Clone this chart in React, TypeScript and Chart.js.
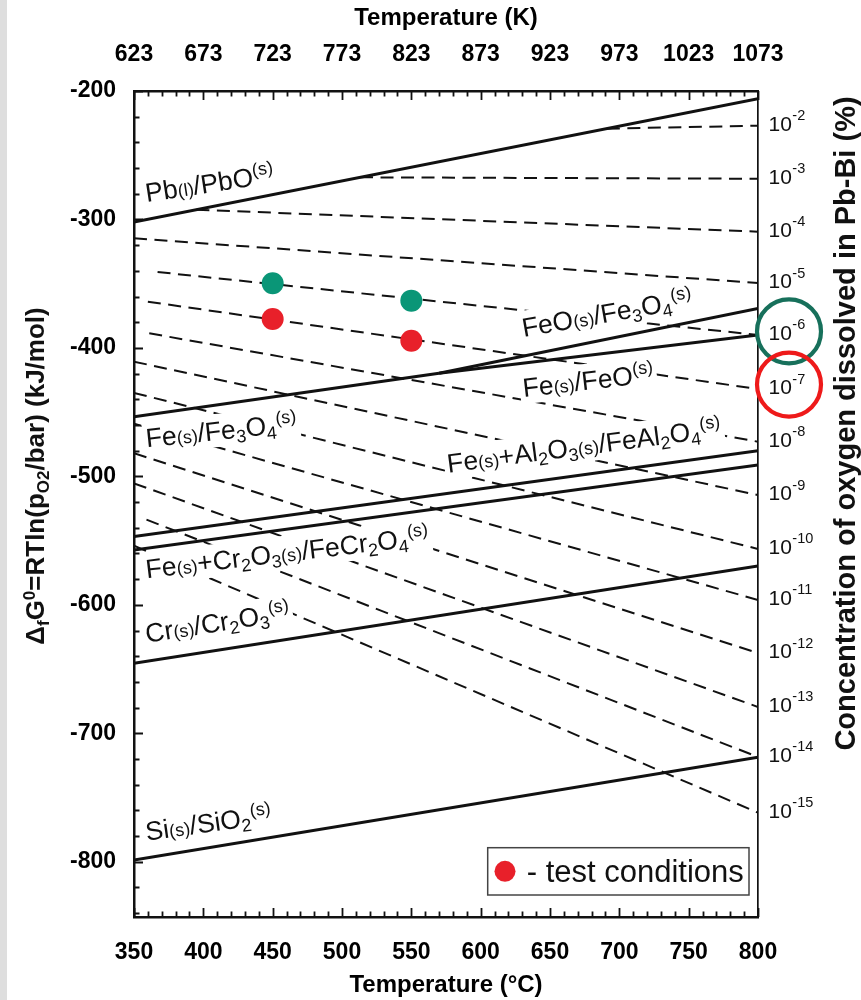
import React, { useEffect, useRef } from 'react';
import { Chart, registerables } from 'chart.js';

Chart.register(...registerables);

const FAM = '"Liberation Sans", Arial, Helvetica, sans-serif';

// ---------------- data ----------------
const tempTicksC = [350, 400, 450, 500, 550, 600, 650, 700, 750, 800];
const tempTicksK = ['623', '673', '723', '773', '823', '873', '923', '973', '1023', '1073'];
const gTicks = [-800, -700, -600, -500, -400, -300, -200];

// iso-concentration (dashed) lines: oxygen concentration 10^-2 ... 10^-15 %
const isoExponents = ['-2', '-3', '-4', '-5', '-6', '-7', '-8', '-9', '-10', '-11', '-12', '-13', '-14', '-15'];
const isoStartT = [691, 513, 395, 350, 367, 360, 361, 350, 350, 350, 350, 350, 359, 350];
const isoStartG = [-229.3, -267.2, -292.4, -314.7, -340.9, -364.0, -388.6, -410.7, -435.0, -459.0, -482.0, -505.4, -533.7, -554.0];
const isoEndT = 800;
const isoEndG = [-227.0, -268.3, -309.5, -349.5, -389.9, -432.0, -473.0, -514.5, -556.5, -596.2, -637.5, -679.5, -718.4, -761.8];

// oxide formation lines (solid)
const pbPbO = [{ x: 350, y: -302 }, { x: 800, y: -206 }];
const feFe3O4 = [{ x: 350, y: -453.5 }, { x: 570, y: -419.7 }];
const feoFe3O4 = [{ x: 570, y: -419.7 }, { x: 800, y: -369.2 }];
const feFeO = [{ x: 570, y: -419.7 }, { x: 800, y: -389.9 }];
const feAl2O4 = [{ x: 350, y: -546.9 }, { x: 800, y: -480.0 }];
const feCr2O4 = [{ x: 350, y: -557.3 }, { x: 800, y: -491.1 }];
const crCr2O3 = [{ x: 350, y: -645.5 }, { x: 800, y: -569.8 }];
const siSiO2 = [{ x: 350, y: -798.6 }, { x: 800, y: -718.7 }];

// test conditions
const testTemps = [450, 550];
const testGreenG = [-349.7, -363.2];
const testRedG = [-377.5, -394.4];

// curve labels (anchor = left baseline, in data units)
type Kind = 'n' | 's' | 'd' | 'p';
type Seg = [string, Kind];
const curveLabels: { segs: Seg[]; t: number; g: number; angle: number }[] = [
  { segs: [['Pb', 'n'], ['(l)', 's'], ['/PbO', 'n'], ['(s)', 'p']], t: 359.2, g: -286.5, angle: -8.7 },
  { segs: [['FeO', 'n'], ['(s)', 's'], ['/Fe', 'n'], ['3', 'd'], ['O', 'n'], ['4', 'd'], ['(s)', 'p']], t: 631, g: -391.5, angle: -10 },
  { segs: [['Fe', 'n'], ['(s)', 's'], ['/FeO', 'n'], ['(s)', 'p']], t: 631, g: -438.2, angle: -6.5 },
  { segs: [['Fe', 'n'], ['(s)', 's'], ['+Al', 'n'], ['2', 'd'], ['O', 'n'], ['3', 'd'], ['(s)', 's'], ['/FeAl', 'n'], ['2', 'd'], ['O', 'n'], ['4', 'd'], ['(s)', 'p']], t: 576.7, g: -497.1, angle: -7.5 },
  { segs: [['Fe', 'n'], ['(s)', 's'], ['/Fe', 'n'], ['3', 'd'], ['O', 'n'], ['4', 'd'], ['(s)', 'p']], t: 359.2, g: -477.4, angle: -6 },
  { segs: [['Fe', 'n'], ['(s)', 's'], ['+Cr', 'n'], ['2', 'd'], ['O', 'n'], ['3', 'd'], ['(s)', 's'], ['/FeCr', 'n'], ['2', 'd'], ['O', 'n'], ['4', 'd'], ['(s)', 'p']], t: 359.2, g: -579.3, angle: -6.8 },
  { segs: [['Cr', 'n'], ['(s)', 's'], ['/Cr', 'n'], ['2', 'd'], ['O', 'n'], ['3', 'd'], ['(s)', 'p']], t: 359.2, g: -629.5, angle: -9 },
  { segs: [['Si', 'n'], ['(s)', 's'], ['/SiO', 'n'], ['2', 'd'], ['(s)', 'p']], t: 359.2, g: -783.6, angle: -8 },
];

const leftTitle: Seg[] = [['Δ', 'n'], ['f', 'd'], ['G', 'n'], ['0', 'p'], ['=RTln(p', 'n'], ['O2', 'd'], ['/bar) (kJ/mol)', 'n']];
const rightTitle = 'Concentration of oxygen dissolved in Pb-Bi (%)';
const legendText = '- test conditions';

// ---------------- styles ----------------
const GREEN_DOT = '#0a9677';
const RED_DOT = '#e8202a';
const GREEN_RING = '#17705b';
const RED_RING = '#ee1a1a';
const INK = '#111';

function fontFor(kind: Kind, size: number, small: number, bold: boolean) {
  return `${bold ? 'bold ' : ''}${kind === 'n' ? size : small}px ${FAM}`;
}
function dyFor(kind: Kind, size: number) {
  if (kind === 'd') return size * 0.18;
  if (kind === 'p') return -size * 0.36;
  return 0;
}
function drawRich(ctx: CanvasRenderingContext2D, segs: Seg[], x: number, y: number, angleDeg: number,
  size: number, small: number, bold: boolean, align: 'left' | 'center', bg: boolean) {
  ctx.save();
  ctx.translate(x, y);
  ctx.rotate((angleDeg * Math.PI) / 180);
  let total = 0;
  const widths = segs.map(([t, k]) => {
    ctx.font = fontFor(k, size, small, bold);
    const w = ctx.measureText(t).width;
    total += w;
    return w;
  });
  let sx = align === 'center' ? -total / 2 : 0;
  if (bg) {
    ctx.fillStyle = '#fff';
    ctx.fillRect(sx - 3, -size * 0.98, total + 6, size * 1.25);
  }
  ctx.fillStyle = INK;
  ctx.textAlign = 'left';
  ctx.textBaseline = 'alphabetic';
  segs.forEach(([t, k], i) => {
    ctx.font = fontFor(k, size, small, bold);
    ctx.fillText(t, sx, dyFor(k, size));
    sx += widths[i];
  });
  ctx.restore();
}

const decorPlugin = {
  id: 'decor',
  beforeDraw(chart: any) {
    const ctx = chart.ctx as CanvasRenderingContext2D;
    ctx.save();
    ctx.fillStyle = '#fff';
    ctx.fillRect(0, 0, chart.width, chart.height);
    ctx.fillStyle = '#dedede';
    ctx.fillRect(0, 0, 7, chart.height);
    ctx.restore();
  },
  afterDatasetsDraw(chart: any) {
    const ctx = chart.ctx as CanvasRenderingContext2D;
    const { x, y, y2 } = chart.scales;
    const ca = chart.chartArea;

    // curve labels with white masks
    curveLabels.forEach((l) => {
      drawRich(ctx, l.segs, x.getPixelForValue(l.t), y.getPixelForValue(l.g), l.angle, 26.5, 18, false, 'left', true);
    });

    // inward tick marks
    ctx.save();
    ctx.strokeStyle = INK;
    ctx.lineWidth = 1.8;
    ctx.beginPath();
    for (let t = 350; t <= 800; t += 10) {
      const px = Math.round(x.getPixelForValue(t)) + 0.5;
      const len = t % 50 === 0 ? 9 : 5.5;
      ctx.moveTo(px, ca.bottom);
      ctx.lineTo(px, ca.bottom - len);
      ctx.moveTo(px, ca.top);
      ctx.lineTo(px, ca.top + len);
    }
    for (let g = -840; g <= -200; g += 20) {
      const py = Math.round(y.getPixelForValue(g)) + 0.5;
      const len = g % 100 === 0 ? 9 : 5.5;
      ctx.moveTo(ca.left, py);
      ctx.lineTo(ca.left + len, py);
    }
    ctx.stroke();
    ctx.restore();

    // right axis labels 10^-n
    ctx.save();
    ctx.fillStyle = INK;
    ctx.textAlign = 'left';
    ctx.textBaseline = 'alphabetic';
    isoEndG.forEach((g, i) => {
      const py = y2.getPixelForValue(g);
      const x0 = ca.right + 10.5;
      ctx.font = `21px ${FAM}`;
      ctx.fillText('10', x0, py + 5);
      const w = ctx.measureText('10').width;
      ctx.font = `14.5px ${FAM}`;
      ctx.fillText(isoExponents[i], x0 + w + 0.5, py - 5.5);
    });
    ctx.restore();

    // axis titles (rotated, bottom-to-top)
    drawRich(ctx, leftTitle, 44, 476, -90, 26, 17, true, 'center', false);
    drawRich(ctx, [[rightTitle, 'n']], 855, 423.5, -90, 29, 29, true, 'center', false);

    // highlight rings on right axis
    ctx.save();
    ctx.lineWidth = 4.2;
    ctx.strokeStyle = GREEN_RING;
    ctx.beginPath();
    ctx.arc(ca.right + 31, y2.getPixelForValue(isoEndG[4]) - 3.5, 32, 0, Math.PI * 2);
    ctx.stroke();
    ctx.strokeStyle = RED_RING;
    ctx.beginPath();
    ctx.arc(ca.right + 31, y2.getPixelForValue(isoEndG[5]) - 4.5, 32, 0, Math.PI * 2);
    ctx.stroke();
    ctx.restore();

    // legend box
    ctx.save();
    const bl = ca.right - 270.3, br = ca.right - 9, bt = ca.bottom - 69.3, bb = ca.bottom - 22;
    ctx.fillStyle = '#fff';
    ctx.fillRect(bl, bt, br - bl, bb - bt);
    ctx.strokeStyle = '#444';
    ctx.lineWidth = 1.5;
    ctx.strokeRect(bl, bt, br - bl, bb - bt);
    const mid = (bt + bb) / 2;
    ctx.fillStyle = RED_DOT;
    ctx.beginPath();
    ctx.arc(bl + 17.3, mid, 10.5, 0, Math.PI * 2);
    ctx.fill();
    ctx.fillStyle = INK;
    ctx.font = `31px ${FAM}`;
    ctx.textBaseline = 'alphabetic';
    ctx.fillText(legendText, bl + 39, mid + 10.5);
    ctx.restore();
  },
};

function lineDs(data: { x: number; y: number }[], dashed: boolean) {
  return {
    data,
    showLine: true,
    borderColor: INK,
    borderWidth: dashed ? 2 : 3,
    borderDash: dashed ? [13, 7.5] : [],
    borderCapStyle: 'butt',
    pointRadius: 0,
    pointHoverRadius: 0,
    fill: false,
    tension: 0,
  };
}

export default function App() {
  const ref = useRef<HTMLCanvasElement>(null);
  useEffect(() => {
    document.body.style.margin = '0';
    const canvas = ref.current;
    if (!canvas) return;

    const dotDs = (gs: number[], color: string) => ({
      data: testTemps.map((t, i) => ({ x: t, y: gs[i] })),
      showLine: false,
      pointRadius: 11,
      pointHoverRadius: 11,
      pointBackgroundColor: color,
      pointBorderWidth: 0,
      borderWidth: 0,
    });

    const datasets: any[] = [
      dotDs(testGreenG, GREEN_DOT),
      dotDs(testRedG, RED_DOT),
      lineDs(pbPbO, false),
      lineDs(feFe3O4, false),
      lineDs(feoFe3O4, false),
      lineDs(feFeO, false),
      lineDs(feAl2O4, false),
      lineDs(feCr2O4, false),
      lineDs(crCr2O3, false),
      lineDs(siSiO2, false),
      ...isoStartT.map((t, i) => lineDs([{ x: t, y: isoStartG[i] }, { x: isoEndT, y: isoEndG[i] }], true)),
    ];

    const tickFont = { family: FAM, size: 23, weight: 'bold' as const };
    const titleFont = { family: FAM, size: 24, weight: 'bold' as const };

    const chart = new Chart(canvas, {
      type: 'scatter',
      data: { datasets },
      plugins: [decorPlugin],
      options: {
        animation: false,
        responsive: false,
        devicePixelRatio: 1,
        events: [],
        layout: { padding: 0, autoPadding: false },
        plugins: { legend: { display: false }, tooltip: { enabled: false } },
        scales: {
          x: {
            type: 'linear',
            position: 'bottom',
            min: 350,
            max: 800,
            afterBuildTicks: (s: any) => { s.ticks = tempTicksC.map((v) => ({ value: v })); },
            afterFit: (s: any) => { s.height = 83; },
            grid: { display: false, drawTicks: false },
            border: { display: true, color: INK, width: 2.5 },
            ticks: { font: tickFont, color: '#000', padding: 22, maxRotation: 0, minRotation: 0, autoSkip: false, callback: (v: any) => String(v) },
            title: { display: true, text: 'Temperature (°C)', font: titleFont, color: '#000', padding: { top: 0, bottom: 0 } },
          },
          x2: {
            type: 'linear',
            position: 'top',
            min: 350,
            max: 800,
            afterBuildTicks: (s: any) => { s.ticks = tempTicksC.map((v) => ({ value: v })); },
            afterFit: (s: any) => { s.height = 91; },
            grid: { display: false, drawTicks: false },
            border: { display: true, color: INK, width: 2.5 },
            ticks: {
              font: tickFont, color: '#000', padding: 23, maxRotation: 0, minRotation: 0, autoSkip: false,
              callback: (v: any) => tempTicksK[tempTicksC.indexOf(Number(v))] ?? '',
            },
            title: { display: true, text: 'Temperature (K)', font: titleFont, color: '#000', padding: { top: 4, bottom: 0 } },
          },
          y: {
            type: 'linear',
            position: 'left',
            min: -843,
            max: -200,
            afterBuildTicks: (s: any) => { s.ticks = gTicks.map((v) => ({ value: v })); },
            afterFit: (s: any) => { s.width = 134; },
            grid: { display: false, drawTicks: false },
            border: { display: true, color: INK, width: 2.5 },
            ticks: { font: tickFont, color: '#000', padding: 18, callback: (v: any) => String(v) },
            title: { display: false },
          },
          y2: {
            type: 'linear',
            position: 'right',
            min: -843,
            max: -200,
            afterBuildTicks: (s: any) => { s.ticks = isoEndG.map((v) => ({ value: v })); },
            afterFit: (s: any) => { s.width = 103; },
            grid: { display: false, drawTicks: false },
            border: { display: true, color: INK, width: 1.7 },
            ticks: { display: false },
            title: { display: false },
          },
        },
      } as any,
    });
    return () => chart.destroy();
  }, []);

  return <canvas ref={ref} width={861} height={1000} style={{ display: 'block', width: 861, height: 1000 }} />;
}
